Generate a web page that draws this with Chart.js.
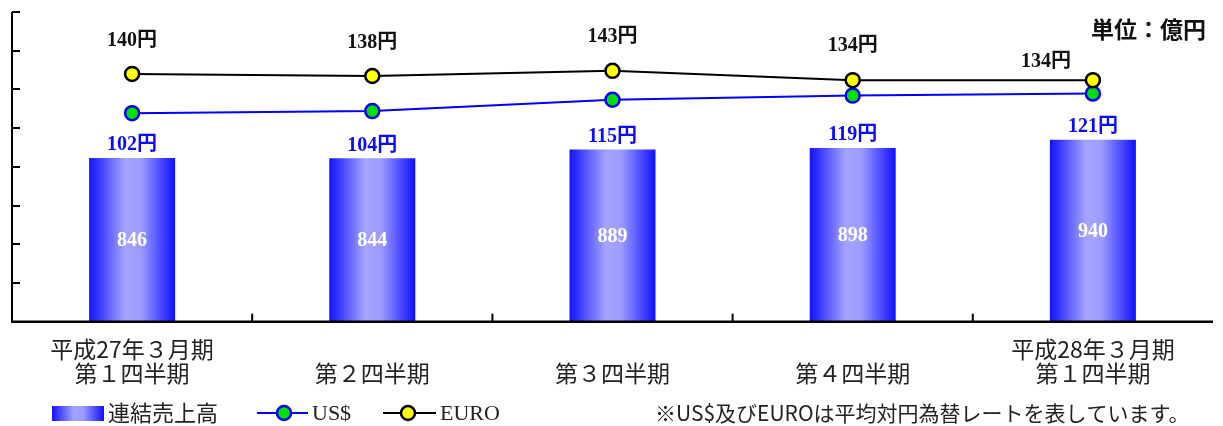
<!DOCTYPE html>
<html><head><meta charset="utf-8">
<script src="https://cdn.jsdelivr.net/npm/chart.js@4/dist/chart.umd.min.js"></script>
<style>html,body{margin:0;padding:0;background:#fff}#wrap{width:1223px;height:426px;position:relative}</style>
</head><body><div id="wrap"><canvas id="c" width="1223" height="426"></canvas></div>
<script>
const categories = [["平成27年３月期","第１四半期"],["","第２四半期"],["","第３四半期"],["","第４四半期"],["平成28年３月期","第１四半期"]];
const sales = [846, 844, 889, 898, 940];
const usd = [102, 104, 115, 119, 121];
const euro = [140, 138, 143, 134, 134];
const salesAxis = {min: 0, max: 1600, step: 200};
const rateAxis = {min: -100, max: 200};
const seriesNames = ["連結売上高", "US$", "EURO"];
const unitText = "単位：億円";
const noteText = "※US$及びEUROは平均対円為替レートを表しています。";

const SERIF = "'Liberation Serif','Noto Sans CJK JP'";
const CJK = "'Noto Sans CJK JP'";
const BAR_PCT = 0.358;

function barGradient(ctx, x0, x1){
  const g = ctx.createLinearGradient(x0, 0, x1, 0);
  g.addColorStop(0, '#1212ff');
  g.addColorStop(0.42, '#a4a4ff');
  g.addColorStop(0.6, '#9c9cff');
  g.addColorStop(1, '#1010ff');
  return g;
}

const euroLabelOffsets = [[0,-33],[0,-33],[0,-34],[0,-34],[-47,-18]];

const customDraw = {
  id: 'customDraw',
  afterDatasetsDraw(chart){
    const {ctx, chartArea:a, scales} = chart;
    ctx.save();
    ctx.strokeStyle = '#000';
    ctx.lineWidth = 2;
    ctx.beginPath();
    ctx.moveTo(a.left, a.top); ctx.lineTo(a.left, a.bottom);
    ctx.stroke();
    const ys = scales.y;
    for (let v = salesAxis.min; v <= salesAxis.max; v += salesAxis.step){
      const py = Math.round(ys.getPixelForValue(v));
      ctx.beginPath(); ctx.moveTo(a.left, py); ctx.lineTo(a.left + 8, py); ctx.stroke();
    }
    ctx.lineWidth = 2.5;
    ctx.beginPath(); ctx.moveTo(a.left - 1, a.bottom); ctx.lineTo(a.right, a.bottom); ctx.stroke();
    ctx.lineWidth = 2;
    const xs = scales.x;
    for (let i = 1; i < categories.length; i++){
      const px = (xs.getPixelForValue(i-1) + xs.getPixelForValue(i)) / 2;
      ctx.beginPath(); ctx.moveTo(px, a.bottom); ctx.lineTo(px, a.bottom - 8); ctx.stroke();
    }
    const barMeta = chart.getDatasetMeta(0);
    ctx.textAlign = 'center'; ctx.textBaseline = 'middle';
    barMeta.data.forEach((el, i) => {
      ctx.fillStyle = '#ffffff';
      ctx.font = "bold 20px " + SERIF;
      ctx.fillText(String(sales[i]), el.x, (el.y + el.base) / 2 + 1);
      ctx.fillStyle = '#0a0aff';
      ctx.font = "bold 20px " + SERIF;
      ctx.fillText(usd[i] + "円", el.x, el.y - 13);
    });
    const euroMeta = chart.getDatasetMeta(2);
    euroMeta.data.forEach((el, i) => {
      const o = euroLabelOffsets[i];
      ctx.fillStyle = '#111';
      ctx.font = "bold 20px " + SERIF;
      ctx.fillText(euro[i] + "円", el.x + o[0], el.y + o[1]);
    });
    ctx.restore();
  },
  afterDraw(chart){
    const {ctx} = chart;
    ctx.save();
    ctx.textBaseline = 'middle';
    ctx.fillStyle = '#111';
    ctx.font = "bold 23px " + CJK;
    ctx.textAlign = 'right';
    ctx.fillText(unitText, 1206, 29);
    ctx.textAlign = 'left';
    const ly = 413;
    ctx.fillStyle = barGradient(ctx, 52, 104);
    ctx.fillRect(52, 406, 52, 15);
    ctx.fillStyle = '#222';
    ctx.font = "22px " + CJK;
    ctx.fillText(seriesNames[0], 108, ly);
    ctx.strokeStyle = '#0000ff'; ctx.lineWidth = 2;
    ctx.beginPath(); ctx.moveTo(257, ly); ctx.lineTo(308, ly); ctx.stroke();
    ctx.beginPath(); ctx.arc(284, ly, 7, 0, Math.PI*2);
    ctx.fillStyle = '#00e000'; ctx.fill(); ctx.lineWidth = 2.5; ctx.stroke();
    ctx.fillStyle = '#222'; ctx.font = "22px " + SERIF;
    ctx.fillText(seriesNames[1], 312, ly + 1);
    ctx.strokeStyle = '#000'; ctx.lineWidth = 2;
    ctx.beginPath(); ctx.moveTo(383, ly); ctx.lineTo(436, ly); ctx.stroke();
    ctx.beginPath(); ctx.arc(408, ly, 7, 0, Math.PI*2);
    ctx.fillStyle = '#ffff00'; ctx.fill(); ctx.lineWidth = 2.5; ctx.stroke();
    ctx.fillStyle = '#222'; ctx.font = "22px " + SERIF;
    ctx.fillText(seriesNames[2], 440, ly + 1);
    ctx.font = "21px " + CJK;
    ctx.fillText(noteText, 655, ly);
    ctx.restore();
  }
};

new Chart(document.getElementById('c'), {
  data: {
    labels: categories,
    datasets: [
      {
        type: 'bar', label: seriesNames[0], data: sales, yAxisID: 'y', order: 3,
        categoryPercentage: 1, barPercentage: BAR_PCT, borderWidth: 0,
        backgroundColor: (c) => {
          const ch = c.chart; const xs = ch.scales && ch.scales.x;
          if (!ch.chartArea || !xs) return '#4040ff';
          const cx = xs.getPixelForValue(c.dataIndex);
          const w = (xs.width / categories.length) * BAR_PCT;
          return barGradient(ch.ctx, cx - w/2, cx + w/2);
        }
      },
      {
        type: 'line', label: seriesNames[1], data: usd, yAxisID: 'y2', order: 2,
        borderColor: '#0000ff', borderWidth: 2, backgroundColor: '#00e000',
        pointBackgroundColor: '#00e000', pointBorderColor: '#0000ff', pointBorderWidth: 2.5,
        pointRadius: 7, tension: 0, fill: false
      },
      {
        type: 'line', label: seriesNames[2], data: euro, yAxisID: 'y2', order: 1,
        borderColor: '#000000', borderWidth: 2, backgroundColor: '#ffff00',
        pointBackgroundColor: '#ffff00', pointBorderColor: '#000000', pointBorderWidth: 2.5,
        pointRadius: 7, tension: 0, fill: false
      }
    ]
  },
  options: {
    responsive: false, animation: false,
    layout: {padding: {left: 12, right: 10, top: 12, bottom: 26}},
    plugins: {legend: {display: false}, tooltip: {enabled: false}},
    scales: {
      x: {
        offset: true,
        grid: {display: false, drawTicks: false},
        border: {display: false},
        ticks: {color: '#222', font: {family: CJK, size: 23, lineHeight: 1.05}, padding: 15, maxRotation: 0, autoSkip: false}
      },
      y: {display: false, min: salesAxis.min, max: salesAxis.max},
      y2: {display: false, min: rateAxis.min, max: rateAxis.max}
    }
  },
  plugins: [customDraw]
});
</script>
</body></html>
